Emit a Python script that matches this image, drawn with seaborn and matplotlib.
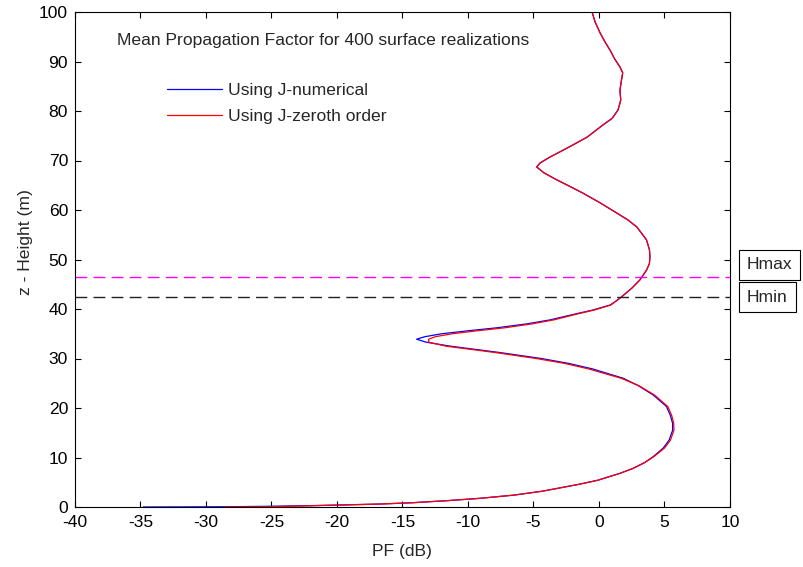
import numpy as np
import pandas as pd
import matplotlib
matplotlib.use("Agg")
import matplotlib.pyplot as plt
import seaborn as sns
from matplotlib.lines import Line2D

# ---------------- data ----------------
z_height = [0, 0.05, 0.15, 0.3, 0.45, 0.6, 0.87, 1.28, 1.75, 2.4, 3.2, 4.0, 4.6, 5.4,
            6.8, 7.8, 9.0, 10.2, 11.9, 13.5, 15.5, 16.9, 18.5, 20.3, 22.6, 24.5, 26.0,
            27.9, 29.0, 30.0, 31.2, 32.5, 33.3, 33.9, 34.4, 35.0, 35.6, 36.2, 37.0,
            37.8, 39.0, 39.8, 40.8, 41.6, 42.4, 44.2, 45.9, 47.9, 49.2, 50.6, 52.0,
            54.0, 56.6, 58.0, 59.4, 61.5, 63.4, 65.0, 66.1, 67.5, 68.7, 69.5, 70.7,
            72.5, 74.7, 77.2, 78.5, 80.2, 82.2, 84.2, 86.0, 87.7, 88.9, 90.5, 92.3,
            94.0, 95.8, 98.0, 100.0]

pf_numerical = [-34.8, -28.5, -25.0, -21.5, -19.0, -16.7, -14.2, -11.6, -9.1, -6.5, -4.3,
                -2.7, -1.5, -0.1, 1.6, 2.6, 3.5, 4.15, 4.9, 5.35, 5.62, 5.62, 5.45, 5.15,
                4.15, 3.0, 1.86, -0.5, -2.3, -4.4, -7.56, -11.37, -13.2, -13.92, -13.3,
                -12.0, -10.0, -7.8, -5.5, -3.74, -1.8, -0.46, 0.84, 1.3, 1.7, 2.5, 3.13,
                3.64, 3.85, 3.89, 3.85, 3.62, 2.88, 2.2, 1.35, 0.05, -1.22, -2.4, -3.23,
                -4.2, -4.76, -4.5, -3.74, -2.44, -0.92, 0.31, 1.0, 1.45, 1.66, 1.6, 1.7,
                1.81, 1.6, 1.2, 0.84, 0.45, 0.08, -0.3, -0.53]

pf_zeroth = [-28.5, -25.5, -23.5, -21.3, -19.0, -16.7, -14.2, -11.6, -9.1, -6.5, -4.3,
             -2.7, -1.5, -0.1, 1.6, 2.6, 3.5, 4.2, 5.0, 5.45, 5.72, 5.7, 5.55, 5.25,
             4.25, 3.05, 1.7, -0.8, -2.6, -4.8, -7.9, -11.7, -13.0, -13.0, -12.5,
             -11.2, -9.3, -7.2, -5.1, -3.45, -1.65, -0.35, 0.9, 1.3, 1.7, 2.5, 3.13,
             3.64, 3.85, 3.89, 3.85, 3.62, 2.88, 2.2, 1.35, 0.05, -1.22, -2.4, -3.23,
             -4.2, -4.76, -4.5, -3.74, -2.44, -0.92, 0.31, 1.0, 1.45, 1.66, 1.6, 1.7,
             1.81, 1.6, 1.2, 0.84, 0.45, 0.08, -0.3, -0.53]

series_labels = ["Using J-numerical", "Using J-zeroth order"]
h_max = 46.5
h_min = 42.4
x_ticks = list(range(-40, 11, 5))
y_ticks = list(range(0, 101, 10))

# ---------------- style ----------------
FS = 12.6
sns.set_style("ticks")
plt.rcParams["font.family"] = ["Liberation Sans", "DejaVu Sans"]
plt.rcParams["font.size"] = FS

fig = plt.figure(figsize=(8.04, 5.67), dpi=100)
ax = fig.add_axes([75 / 804, 1 - 507 / 567, (730 - 75) / 804, (507 - 12) / 567])

df = pd.concat([
    pd.DataFrame({"PF": pf_numerical, "z": z_height, "method": series_labels[0]}),
    pd.DataFrame({"PF": pf_zeroth, "z": z_height, "method": series_labels[1]}),
])

sns.lineplot(data=df, x="PF", y="z", hue="method", sort=False, estimator=None,
             palette=["#0000ff", "#ff0000"], linewidth=0.9, ax=ax, legend=False)

ax.axhline(h_max, color="#ff00ff", lw=1.0, dashes=(8.5, 4.5))
ax.axhline(h_min, color="#222222", lw=1.0, dashes=(8.5, 4.5))

ax.set_xlim(-40, 10)
ax.set_ylim(0, 100)
ax.set_xticks(x_ticks)
ax.set_yticks(y_ticks)
ax.set_xticklabels([str(t) for t in x_ticks])
ax.set_yticklabels([str(t) for t in y_ticks])
ax.tick_params(direction="in", length=4.5, width=0.8, top=True, right=True,
               labelsize=FS, colors="black", pad=5)
ax.tick_params(axis="x", pad=6)
for sp in ax.spines.values():
    sp.set_visible(True)
    sp.set_color("black")
    sp.set_linewidth(0.8)

ax.set_xlabel("PF (dB)", fontsize=FS, labelpad=10)
ax.set_ylabel("z - Height (m)", fontsize=FS)
ax.yaxis.set_label_coords(-0.064, 0.535)

ax.text(-36.8, 94.3, "Mean Propagation Factor for 400 surface realizations",
        fontsize=FS, ha="left", va="center")

handles = [Line2D([], [], color="#0000ff", lw=0.9), Line2D([], [], color="#ff0000", lw=0.9)]
ax.legend(handles, series_labels, loc="center left", frameon=False,
          bbox_to_anchor=(167 / 804, 1 - 103.5 / 567), bbox_transform=fig.transFigure,
          borderpad=0, borderaxespad=0, handlelength=3.14, handletextpad=0.34,
          labelspacing=0.59, fontsize=FS)

fig.text(747 / 804, 1 - 265 / 567, "Hmax", fontsize=FS, ha="left", va="center",
         bbox=dict(boxstyle="square,pad=0.45", fc="white", ec="black", lw=0.8))
fig.text(747 / 804, 1 - 297 / 567, "Hmin", fontsize=FS, ha="left", va="center",
         bbox=dict(boxstyle="square,pad=0.45", fc="white", ec="black", lw=0.8))

fig.savefig("out.png", dpi=100)
